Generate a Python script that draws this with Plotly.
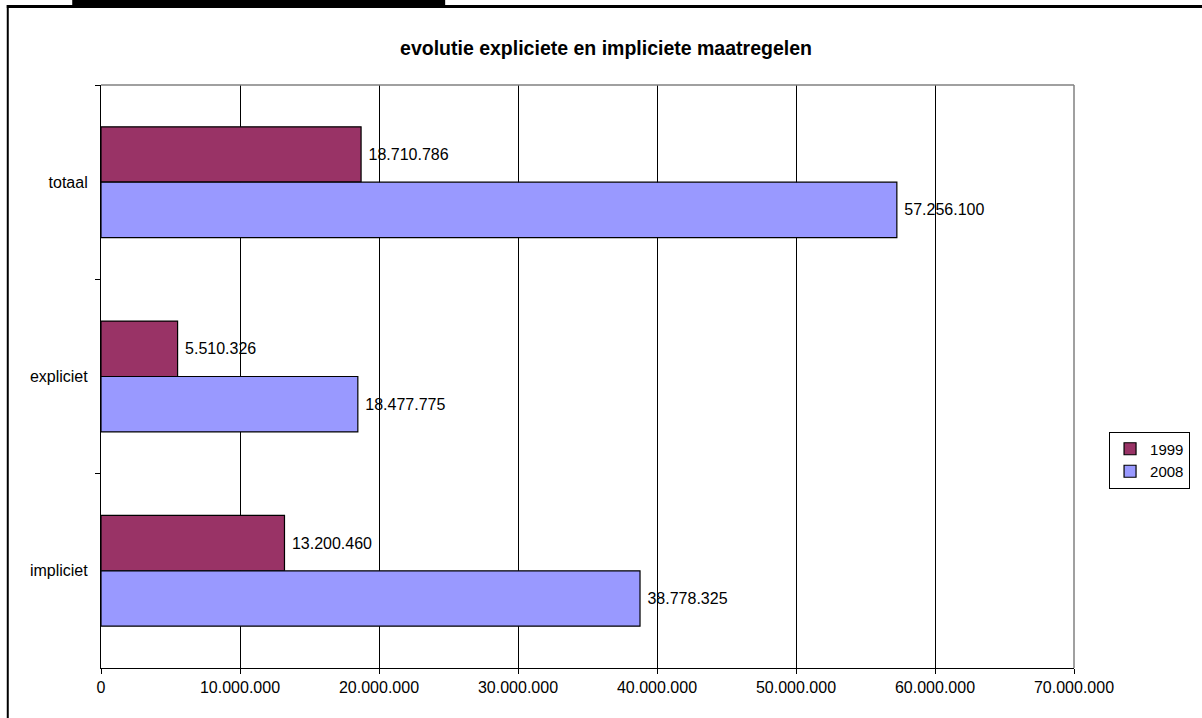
import plotly.graph_objects as go

categories = ["totaal", "expliciet", "impliciet"]
series_names = ["1999", "2008"]
values_1999 = [18710786, 5510326, 13200460]
values_2008 = [57256100, 18477775, 38778325]
x_tick_values = [0, 10000000, 20000000, 30000000, 40000000, 50000000, 60000000, 70000000]
x_tick_labels = ["0", "10.000.000", "20.000.000", "30.000.000", "40.000.000",
                 "50.000.000", "60.000.000", "70.000.000"]
title_text = "evolutie expliciete en impliciete maatregelen"

colors = ["#993366", "#9999FF"]
FONT = "Liberation Sans, Arial, sans-serif"

def fmt(v):
    return " " + f"{v:,}".replace(",", ".")

W, H = 1202, 718
L, R, T, B = 101, 120, 85, 50
pw, ph = W - L - R, H - T - B

def px(xp):
    return (xp - L) / pw

def py(yp):
    return 1 - (yp - T) / ph

fig = go.Figure()
for name, vals, col in zip(series_names, [values_1999, values_2008], colors):
    fig.add_trace(go.Bar(
        y=categories, x=vals, name=name, orientation="h",
        marker=dict(color=col, line=dict(color="#000000", width=1.2)),
        text=[fmt(v) for v in vals], textposition="outside",
        textfont=dict(family=FONT, size=16, color="#000000"),
        cliponaxis=False,
    ))

fig.update_layout(
    width=W, height=H,
    margin=dict(l=L, r=R, t=T, b=B),
    paper_bgcolor="#FFFFFF", plot_bgcolor="#FFFFFF",
    barmode="group", bargap=0.43, bargroupgap=0,
    font=dict(family=FONT, size=16, color="#000000"),
    title=dict(text="<b>" + title_text + "</b>", x=606 / W, xanchor="center",
               xref="container",
               y=1 - 48 / H, yanchor="middle",
               font=dict(family=FONT, size=19.5, color="#000000")),
    legend=dict(x=px(1199), y=py(460), xanchor="right", yanchor="middle",
                bordercolor="#000000", borderwidth=1, bgcolor="#FFFFFF",
                font=dict(size=15), itemwidth=30, tracegroupgap=0,
                traceorder="normal"),
    showlegend=True,
)

fig.update_xaxes(
    range=[0, 70000000], tickvals=x_tick_values, ticktext=x_tick_labels,
    showgrid=True, gridcolor="#000000", gridwidth=1,
    showline=True, linecolor="#000000", linewidth=1.2,
    ticks="outside", ticklen=5, tickcolor="#000000",
    tickfont=dict(size=16),
    zeroline=False, fixedrange=True,
)
fig.update_yaxes(
    categoryorder="array", categoryarray=categories, autorange="reversed",
    showgrid=False, showline=True, linecolor="#000000", linewidth=1.2,
    ticks="outside", ticklen=5, tickson="boundaries", tickcolor="#000000",
    tickfont=dict(size=16), ticklabelstandoff=9, fixedrange=True,
)

# gray plot-area border (top and right)
fig.add_shape(type="line", xref="x domain", yref="y domain", x0=0, x1=1, y0=1, y1=1,
              line=dict(color="#808080", width=1.5), layer="above")
fig.add_shape(type="line", xref="x domain", yref="y domain", x0=1, x1=1, y0=0, y1=1,
              line=dict(color="#808080", width=1.5), layer="above")

# outer chart frame (left and top) and cropped black bar at top
fig.add_shape(type="line", xref="paper", yref="paper", x0=px(6), x1=px(1215),
              y0=py(6.5), y1=py(6.5), line=dict(color="#000000", width=3))
fig.add_shape(type="line", xref="paper", yref="paper", x0=px(7), x1=px(7),
              y0=py(5), y1=py(725), line=dict(color="#000000", width=2))
fig.add_shape(type="rect", xref="paper", yref="paper", x0=px(72), x1=px(448),
              y0=py(5), y1=py(-2), fillcolor="#000000", line=dict(width=0))

fig.write_html("out.html",
               config={"displayModeBar": False},
               post_script="document.body.style.margin='0';document.body.style.overflow='hidden';")
